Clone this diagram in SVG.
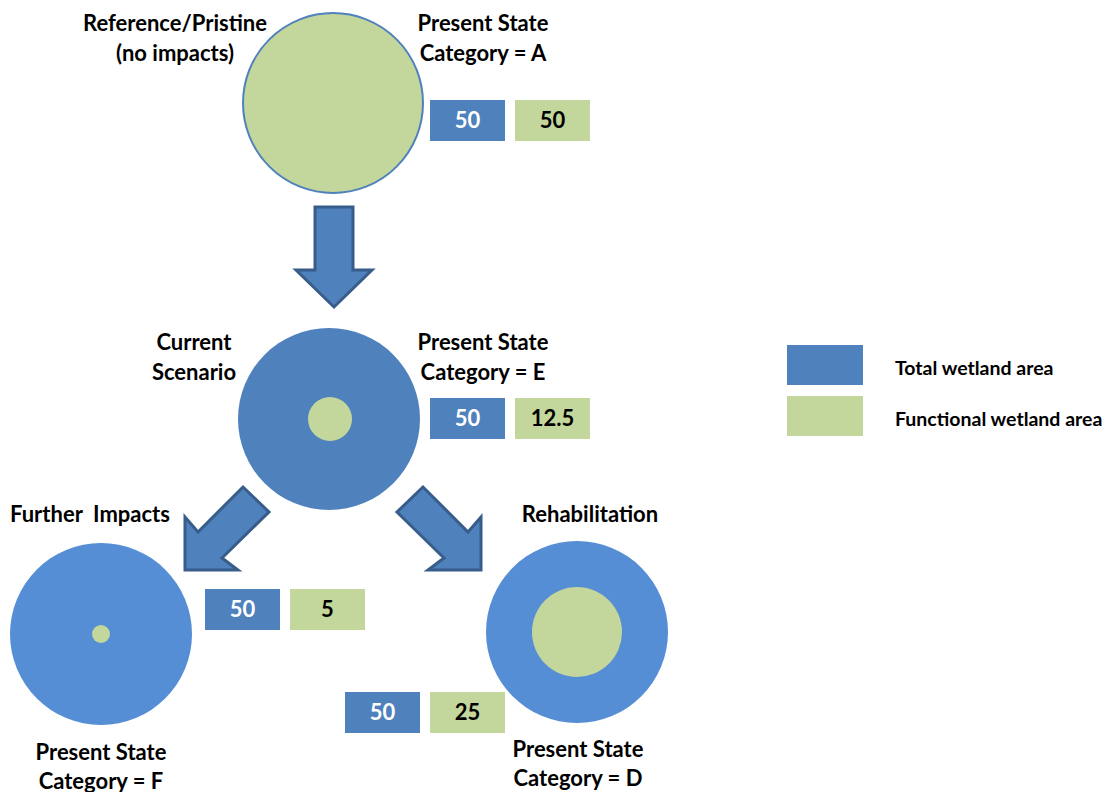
<svg xmlns="http://www.w3.org/2000/svg" width="1109" height="792" viewBox="0 0 1109 792">
<style>
text{font-family:Lato,"Liberation Sans",sans-serif;font-weight:bold;font-size:22px;fill:#000;text-anchor:middle}
.w{fill:#fff}
.leg{font-size:19.5px;text-anchor:start}
.tb{fill:#4f81bd}
.fg{fill:#c3d69b}
.lb{fill:#558ed5}
.arr{fill:#4f81bd;stroke:#385d8a;stroke-width:3;stroke-linejoin:miter}
</style>
<rect width="1109" height="792" fill="#fff"/>
<g id="connectors">
<polygon class="arr" points="315,207 353,207 353,270 372,270 334,307 296,270 315,270"/>
<polygon class="arr" points="243,487 269,512 222,558 238,570 185,570 185,517 198,532"/>
<polygon class="arr" points="423,487 397,512 444,558 428,570 481,570 481,517 468,532"/>
</g>
<g id="reference">
<circle cx="333" cy="103" r="90" class="fg" stroke="#4f81bd" stroke-width="2"/>
<text x="175" y="31">Reference/Pristine</text>
<text x="175" y="61">(no impacts)</text>
<text x="483" y="31">Present State</text>
<text x="483" y="61">Category = A</text>
<rect x="430" y="100" width="75" height="41" class="tb"/>
<rect x="515" y="100" width="75" height="41" class="fg"/>
<text x="467.5" y="128" class="w">50</text>
<text x="552.5" y="128">50</text>
</g>
<g id="current">
<circle cx="329" cy="419" r="91" class="tb"/>
<circle cx="330" cy="419" r="22" class="fg"/>
<text x="194" y="350">Current</text>
<text x="194" y="380">Scenario</text>
<text x="483" y="350">Present State</text>
<text x="483" y="380">Category = E</text>
<rect x="430" y="398" width="75" height="41" class="tb"/>
<rect x="515" y="398" width="75" height="41" class="fg"/>
<text x="467.5" y="426" class="w">50</text>
<text x="552.5" y="426">12.5</text>
</g>
<g id="further">
<circle cx="101" cy="634" r="91" class="lb"/>
<circle cx="101" cy="634" r="9" class="fg"/>
<text x="90" y="522" style="white-space:pre" xml:space="preserve">Further  Impacts</text>
<text x="101" y="760">Present State</text>
<text x="101" y="789">Category = F</text>
<rect x="205" y="589" width="75" height="41" class="tb"/>
<rect x="290" y="589" width="75" height="41" class="fg"/>
<text x="242.5" y="617" class="w">50</text>
<text x="327.5" y="617">5</text>
</g>
<g id="rehab">
<circle cx="577" cy="632" r="91" class="lb"/>
<circle cx="577" cy="632" r="45" class="fg"/>
<text x="590" y="522">Rehabilitation</text>
<text x="578" y="757">Present State</text>
<text x="578" y="786">Category = D</text>
<rect x="345" y="692" width="75" height="41" class="tb"/>
<rect x="430" y="692" width="75" height="41" class="fg"/>
<text x="382.5" y="720" class="w">50</text>
<text x="467.5" y="720">25</text>
</g>
<g id="legend">
<rect x="787" y="345" width="76" height="40" class="tb"/>
<rect x="787" y="396" width="76" height="40" class="fg"/>
<text x="895" y="375" class="leg">Total wetland area</text>
<text x="895" y="426" class="leg">Functional wetland area</text>
</g>
</svg>
